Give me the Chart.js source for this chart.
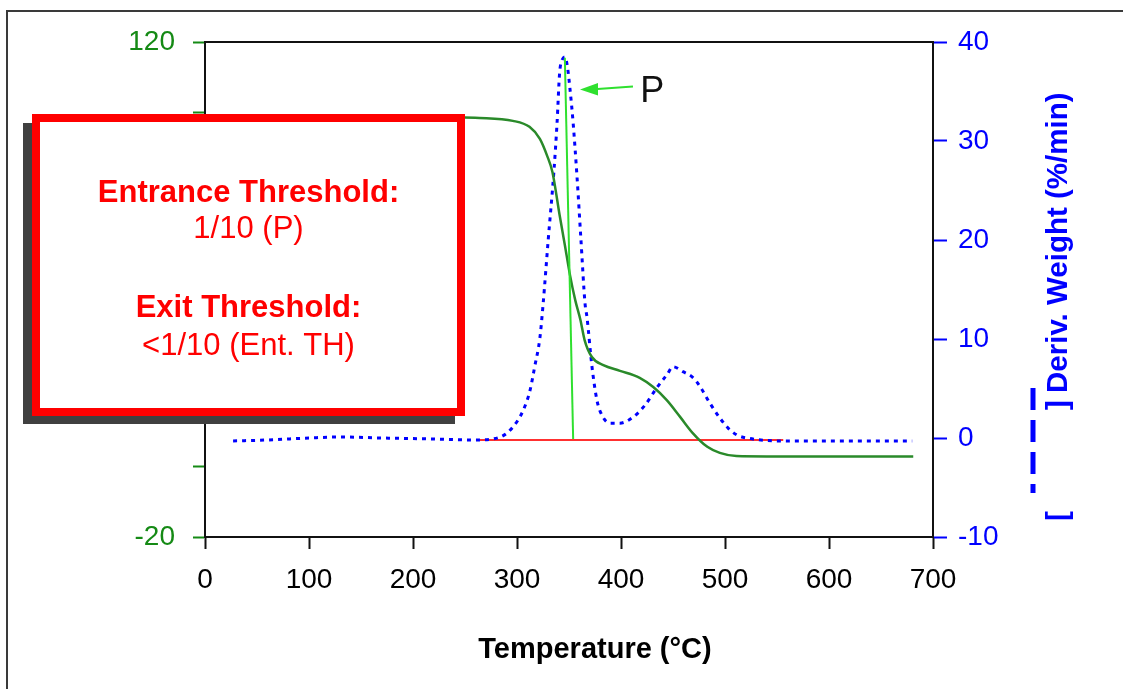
<!DOCTYPE html>
<html>
<head>
<meta charset="utf-8">
<title>TGA / DTG</title>
<script src="https://cdn.jsdelivr.net/npm/chart.js@4.4.1/dist/chart.umd.min.js"></script>
<style>
  html, body { margin: 0; padding: 0; background: #fff; }
  #wrap { width: 1123px; height: 689px; position: relative; }
  canvas { display: block; }
</style>
</head>
<body>
<div id="wrap"><canvas id="tga" width="1123" height="689"></canvas></div>
<script>
// Weight curve (left axis, %)
const weightTemp = [27, 100, 200, 264, 296, 312, 322, 329, 334, 341, 346, 351, 356, 361, 365, 372, 383, 399, 418, 431, 444, 457, 469, 483, 495, 511, 540, 600, 681];
const weightPct  = [98.9, 98.9, 98.8, 98.5, 97.7, 96, 92.6, 87.8, 83.3, 71, 62.6, 54, 47, 41.4, 35.7, 30.9, 28.6, 27, 25, 22.4, 18.7, 13.9, 9.4, 5.5, 3.8, 2.9, 2.8, 2.8, 2.8];

// Derivative weight curve (right axis, %/min)
const derivTemp = [27, 60, 100, 130, 170, 220, 260, 284, 296, 306, 312.5, 317, 322, 325, 330, 335.6, 338.5, 341, 343.5, 346, 348.5, 351, 354, 357.7, 361.5, 365.4, 367.3, 372.1, 376.9, 381.7, 389.4, 399, 411.5, 423, 434.6, 444.2, 450, 459.6, 469.2, 476, 485.6, 495.2, 503, 511.5, 521, 553, 600, 640, 680];
const derivRate = [-0.3, -0.2, 0, 0.1, 0, -0.1, -0.2, 0.1, 1.1, 2.8, 4.8, 7.2, 10.1, 13.4, 20, 27.1, 31.8, 36.9, 38.2, 38.5, 37.5, 35.2, 31.8, 26.4, 20, 13.6, 12.2, 7.2, 3.8, 2.3, 1.5, 1.5, 2.1, 3.3, 5.1, 6.4, 7.2, 6.7, 6.1, 5.2, 3.5, 2.0, 1.0, 0.3, 0, -0.3, -0.3, -0.3, -0.3];

// Peak marker P (vertical) and zero threshold line, both on the right axis
const peakLineTemp = [346, 354];
const peakLineRate = [38.4, -0.1];
const zeroLineTemp = [262, 556];
const zeroLineRate = [-0.2, -0.2];

// Axis ranges and tick steps
const tempRange = [0, 700];
const tempStep = 100;
const weightRange = [-20, 120];
const weightStep = 20;
const weightShownLabels = [120, -20];
const rateRange = [-10, 40];
const rateStep = 10;

// Text
const xTitle = 'Temperature (°C)';
const y2Title = 'Deriv. Weight (%/min)';
const boxLines = [
  { text: 'Entrance Threshold:', bold: true },
  { text: '1/10 (P)', bold: false },
  { text: 'Exit Threshold:', bold: true },
  { text: '<1/10 (Ent. TH)', bold: false }
];
const peakLabel = 'P';

const pts = (xs, ys) => xs.map((x, i) => ({ x: x, y: ys[i] }));

const FONT = '"Liberation Sans", Arial, sans-serif';
const GREEN_DARK = '#2a8a2a';
const GREEN_LABEL = '#158a15';
const GREEN_BRIGHT = '#2fe02f';
const BLUE = '#0000ff';
const RED = '#ff0000';

const decorations = {
  id: 'decorations',
  afterDraw(chart) {
    const ctx = chart.ctx;
    const xs = chart.scales.x, y2 = chart.scales.y2;
    const area = chart.chartArea;
    ctx.save();

    // page frame
    ctx.strokeStyle = '#3a3a3a';
    ctx.lineWidth = 2;
    ctx.beginPath();
    ctx.moveTo(7, 689); ctx.lineTo(7, 11); ctx.lineTo(1123, 11);
    ctx.stroke();

    // top edge of plot frame
    ctx.strokeStyle = '#111';
    ctx.lineWidth = 2;
    ctx.beginPath();
    ctx.moveTo(area.left, area.top); ctx.lineTo(area.right, area.top);
    ctx.stroke();

    // arrow pointing at the peak
    const tipX = xs.getPixelForValue(360.6), tipY = y2.getPixelForValue(35.2);
    const tailX = xs.getPixelForValue(411.5), tailY = y2.getPixelForValue(35.5);
    ctx.strokeStyle = GREEN_BRIGHT;
    ctx.fillStyle = GREEN_BRIGHT;
    ctx.lineWidth = 2;
    ctx.beginPath();
    ctx.moveTo(tailX, tailY); ctx.lineTo(tipX + 14, tipY - 0.3);
    ctx.stroke();
    ctx.beginPath();
    ctx.moveTo(tipX, tipY);
    ctx.lineTo(tipX + 18, tipY - 6.5);
    ctx.lineTo(tipX + 18, tipY + 6);
    ctx.closePath();
    ctx.fill();

    ctx.fillStyle = '#111';
    ctx.font = '36px ' + FONT;
    ctx.textAlign = 'left';
    ctx.textBaseline = 'alphabetic';
    ctx.fillText(peakLabel, xs.getPixelForValue(418.5), y2.getPixelForValue(33.9));

    // threshold box with drop shadow
    ctx.fillStyle = '#404040';
    ctx.fillRect(23, 123, 432, 301);
    ctx.fillStyle = '#fff';
    ctx.fillRect(32, 114, 433, 302);
    ctx.strokeStyle = RED;
    ctx.lineWidth = 8;
    ctx.strokeRect(36, 118, 425, 294);

    ctx.fillStyle = RED;
    ctx.textAlign = 'center';
    const baselines = [202, 238, 317, 355];
    boxLines.forEach((ln, i) => {
      ctx.font = (ln.bold ? 'bold ' : '') + '31px ' + FONT;
      ctx.fillText(ln.text, 248.5, baselines[i]);
    });

    // x axis title
    ctx.fillStyle = '#000';
    ctx.font = 'bold 29px ' + FONT;
    ctx.textAlign = 'center';
    ctx.fillText(xTitle, 595, 658);

    // right axis title with its line-style key
    ctx.translate(1067, 393);
    ctx.rotate(-Math.PI / 2);
    ctx.fillStyle = BLUE;
    ctx.font = 'bold 29.5px ' + FONT;
    ctx.textAlign = 'left';
    ctx.fillText(y2Title, 0, 0);
    ctx.fillText(']', -17, 0);
    ctx.fillText('[', -128, 0);
    ctx.strokeStyle = BLUE;
    ctx.lineWidth = 5;
    ctx.setLineDash([22, 10]);
    ctx.beginPath();
    ctx.moveTo(5, -34); ctx.lineTo(-100, -34);
    ctx.stroke();

    ctx.restore();
  }
};

new Chart(document.getElementById('tga'), {
  type: 'line',
  data: {
    datasets: [
      {
        label: 'Peak',
        data: pts(peakLineTemp, peakLineRate),
        yAxisID: 'y2',
        borderColor: GREEN_BRIGHT,
        borderWidth: 2,
        pointRadius: 0,
        order: 0
      },
      {
        label: 'Weight (%)',
        data: pts(weightTemp, weightPct),
        yAxisID: 'y',
        borderColor: GREEN_DARK,
        borderWidth: 2.5,
        pointRadius: 0,
        cubicInterpolationMode: 'monotone',
        order: 1
      },
      {
        label: y2Title,
        data: pts(derivTemp, derivRate),
        yAxisID: 'y2',
        borderColor: BLUE,
        borderWidth: 3,
        borderDash: [4, 5],
        pointRadius: 0,
        cubicInterpolationMode: 'monotone',
        order: 2
      },
      {
        label: 'Zero',
        data: pts(zeroLineTemp, zeroLineRate),
        yAxisID: 'y2',
        borderColor: '#ff3030',
        borderWidth: 2,
        pointRadius: 0,
        order: 3
      }
    ]
  },
  options: {
    responsive: false,
    animation: false,
    events: [],
    layout: { padding: { top: 42, left: 0, right: 0, bottom: 0 } },
    plugins: { legend: { display: false }, tooltip: { enabled: false } },
    scales: {
      x: {
        type: 'linear',
        min: tempRange[0], max: tempRange[1],
        afterFit(s) { s.height = 152; },
        ticks: { stepSize: tempStep, color: '#000', font: { family: FONT, size: 28 }, padding: 14, maxRotation: 0 },
        grid: { drawOnChartArea: false, drawTicks: true, tickLength: 12, tickColor: '#111', tickWidth: 2 },
        border: { color: '#111', width: 2 }
      },
      y: {
        position: 'left',
        min: weightRange[0], max: weightRange[1],
        afterFit(s) { s.width = 205; },
        ticks: {
          stepSize: weightStep,
          color: GREEN_LABEL,
          font: { family: FONT, size: 28 },
          padding: 18,
          callback: (v) => weightShownLabels.includes(v) ? String(v) : ''
        },
        grid: { drawOnChartArea: false, drawTicks: true, tickLength: 12, tickColor: GREEN_LABEL, tickWidth: 2 },
        border: { color: '#111', width: 2 }
      },
      y2: {
        position: 'right',
        min: rateRange[0], max: rateRange[1],
        afterFit(s) { s.width = 190; },
        ticks: { stepSize: rateStep, color: BLUE, font: { family: FONT, size: 28 }, padding: 11 },
        grid: { drawOnChartArea: false, drawTicks: true, tickLength: 14, tickColor: BLUE, tickWidth: 2 },
        border: { color: '#111', width: 2 }
      }
    }
  },
  plugins: [decorations]
});
</script>
</body>
</html>
